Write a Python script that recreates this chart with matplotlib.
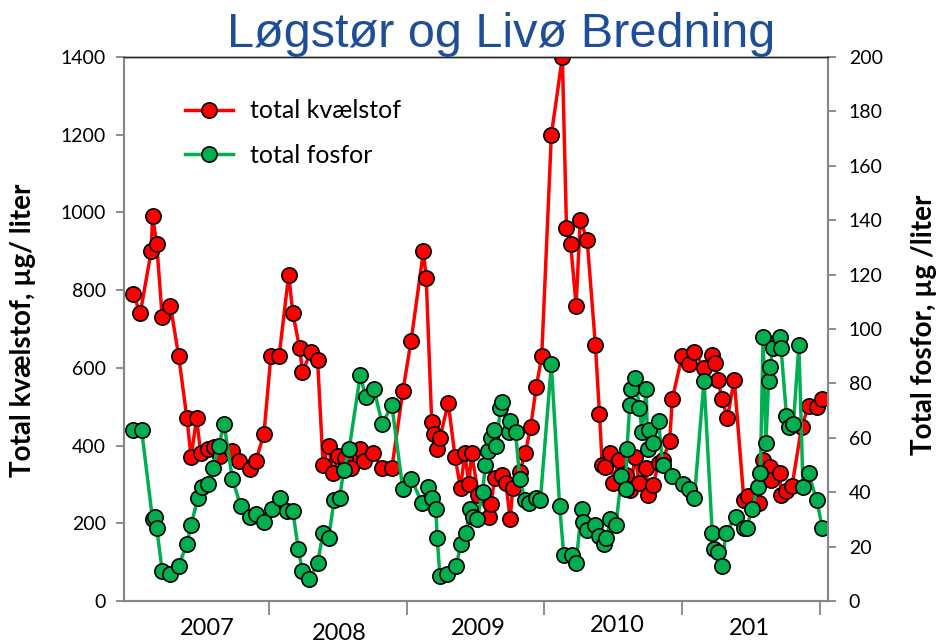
import matplotlib
matplotlib.use("Agg")
import matplotlib.pyplot as plt

# total kvælstof (µg/l), decimal year of sampling
n_year = [
    2007.01, 2007.06, 2007.14, 2007.15, 2007.18, 2007.22, 2007.28, 2007.34, 2007.40, 2007.43,
    2007.47, 2007.50, 2007.55, 2007.60, 2007.64, 2007.73, 2007.78, 2007.86, 2007.90, 2007.96,
    2008.01, 2008.07, 2008.14, 2008.17, 2008.22, 2008.24, 2008.30, 2008.35, 2008.39, 2008.43,
    2008.46, 2008.50, 2008.55, 2008.59, 2008.66, 2008.69, 2008.75, 2008.82, 2008.89, 2008.97,
    2009.03, 2009.12, 2009.14, 2009.18, 2009.20, 2009.22, 2009.24, 2009.30, 2009.35, 2009.39,
    2009.42, 2009.45, 2009.47, 2009.52, 2009.60, 2009.61, 2009.64, 2009.69, 2009.72, 2009.75,
    2009.77, 2009.82, 2009.86, 2009.90, 2009.94, 2009.98, 2010.05, 2010.13, 2010.16, 2010.19,
    2010.23, 2010.26, 2010.31, 2010.37, 2010.40, 2010.42, 2010.44, 2010.48, 2010.50, 2010.54,
    2010.59, 2010.62, 2010.66, 2010.69, 2010.74, 2010.75, 2010.79, 2010.83, 2010.86, 2010.91,
    2010.93, 2011.00, 2011.05, 2011.09, 2011.16, 2011.22, 2011.24, 2011.26, 2011.29, 2011.33,
    2011.38, 2011.45, 2011.48, 2011.56, 2011.59, 2011.64, 2011.65, 2011.71, 2011.72, 2011.76,
    2011.80, 2011.87, 2011.92, 2011.98, 2012.02,
]
n_value = [
    790, 740, 900, 990, 920, 730, 760, 630, 470, 370,
    470, 380, 390, 395, 372, 387, 360, 340, 360, 430,
    630, 630, 840, 740, 650, 590, 640, 620, 350, 400,
    330, 372, 368, 342, 392, 360, 381, 342, 342, 540,
    670, 900, 830, 460, 430, 390, 420, 510, 370, 290,
    381, 300, 380, 273, 217, 250, 317, 323, 303, 211,
    290, 332, 380, 449, 550, 630, 1200, 1400, 960, 920,
    760, 980, 930, 660, 481, 350, 346, 381, 303, 363,
    325, 286, 370, 303, 342, 273, 299, 355, 363, 411,
    521, 630, 610, 641, 600, 632, 613, 570, 520, 471,
    570, 260, 269, 252, 363, 346, 312, 329, 273, 282,
    295, 449, 501, 499, 520,
]

# total fosfor (µg/l)
p_year = [
    2007.01, 2007.07, 2007.15, 2007.17, 2007.18, 2007.22, 2007.28, 2007.34, 2007.40, 2007.43,
    2007.48, 2007.51, 2007.55, 2007.59, 2007.63, 2007.67, 2007.73, 2007.79, 2007.86, 2007.90,
    2007.96, 2008.02, 2008.08, 2008.13, 2008.17, 2008.21, 2008.24, 2008.29, 2008.35, 2008.39,
    2008.43, 2008.47, 2008.51, 2008.54, 2008.58, 2008.66, 2008.70, 2008.76, 2008.82, 2008.89,
    2008.97, 2009.03, 2009.11, 2009.15, 2009.18, 2009.21, 2009.22, 2009.24, 2009.29, 2009.36,
    2009.39, 2009.43, 2009.46, 2009.48, 2009.51, 2009.55, 2009.57, 2009.59, 2009.61, 2009.63,
    2009.65, 2009.68, 2009.69, 2009.74, 2009.75, 2009.79, 2009.82, 2009.86, 2009.89, 2009.94,
    2009.97, 2010.05, 2010.11, 2010.14, 2010.20, 2010.23, 2010.27, 2010.28, 2010.31, 2010.37,
    2010.40, 2010.43, 2010.45, 2010.48, 2010.52, 2010.56, 2010.59, 2010.60, 2010.62, 2010.63,
    2010.66, 2010.69, 2010.71, 2010.74, 2010.75, 2010.76, 2010.79, 2010.83, 2010.86, 2010.93,
    2011.01, 2011.05, 2011.09, 2011.16, 2011.22, 2011.23, 2011.26, 2011.29, 2011.32, 2011.39,
    2011.45, 2011.47, 2011.51, 2011.55, 2011.57, 2011.59, 2011.61, 2011.63, 2011.64, 2011.66,
    2011.71, 2011.72, 2011.76, 2011.78, 2011.81, 2011.85, 2011.88, 2011.92, 2011.98, 2012.02,
]
p_value = [
    63, 63, 30, 31, 27, 11, 10, 13, 21, 28,
    38, 42, 43, 49, 57, 65, 45, 35, 31, 32,
    29, 34, 38, 33, 33, 19, 11, 8, 14, 25,
    23, 37, 38, 48, 56, 83, 75, 78, 65, 72,
    41, 45, 36, 42, 38, 34, 23, 9, 10, 13,
    21, 25, 34, 31, 30, 40, 50, 55, 60, 63,
    57, 71, 73, 62, 66, 62, 45, 37, 36, 38,
    37, 87, 35, 17, 17, 14, 34, 29, 26, 28,
    24, 21, 23, 30, 28, 46, 41, 56, 72, 78,
    82, 71, 62, 78, 56, 63, 58, 66, 50, 46,
    43, 41, 38, 81, 25, 19, 18, 13, 25, 31,
    27, 27, 34, 42, 47, 97, 58, 81, 86, 93,
    97, 93, 68, 64, 65, 94, 42, 47, 37, 27,
]

year_labels = ["2007", "2008", "2009", "2010", "201"]
year_label_pos = [2007.55, 2008.51, 2009.52, 2010.53, 2011.49]
year_bounds = [2008, 2009, 2010, 2011, 2012]

plt.rcParams["font.family"] = ["Lato", "DejaVu Sans"]

AXIS_GREY = "#868686"

fig = plt.figure(figsize=(9.37, 6.42), dpi=100, facecolor="white")
ax = fig.add_axes([0.1323, 0.0639, 0.7514, 0.8473])
ax2 = ax.twinx()

marker_kw = dict(marker="o", markersize=11, markeredgecolor="black", markeredgewidth=1.2)
ax.plot(n_year, n_value, color="#FF0000", linewidth=2.5, markerfacecolor="#FF0000",
        label="total kvælstof", **marker_kw)
ax2.plot(p_year, p_value, color="#00B050", linewidth=2.5, markerfacecolor="#00B050",
         label="total fosfor", **marker_kw)

ax.set_xlim(2006.942, 2012.062)
ax.set_ylim(0, 1400)
ax2.set_ylim(0, 200)
ax.set_yticks(range(0, 1401, 200))
ax2.set_yticks(range(0, 201, 20))
ax.set_xticks(year_bounds)
ax.set_xticklabels([])

for a in (ax, ax2):
    for side in ("left", "right", "bottom"):
        a.spines[side].set_color(AXIS_GREY)
        a.spines[side].set_linewidth(1.5)
    a.spines["top"].set_color("#262626")
    a.spines["top"].set_linewidth(1.0)

ax.tick_params(axis="y", length=6, width=1.3, color=AXIS_GREY, labelsize=14, pad=7)
ax2.tick_params(axis="y", length=6, width=1.3, color=AXIS_GREY, labelsize=14, pad=9)
ax.tick_params(axis="x", length=10, width=1.3, color=AXIS_GREY)

# Excel-style staggered year labels
label_offsets = [-0.050, -0.059, -0.050, -0.046, -0.050]
for pos, lab, off in zip(year_label_pos, year_labels, label_offsets):
    ax.text(pos, off, lab, transform=ax.get_xaxis_transform(), ha="center", va="center",
            fontsize=17)

fig.text(23 / 937, 1 - 330 / 642, "Total kvælstof, µg/ liter", rotation=90, ha="center",
         va="center", fontsize=20, fontweight="bold")
fig.text(924 / 937, 1 - 325 / 642, "Total fosfor, µg /liter", rotation=90, ha="center",
         va="center", fontsize=20, fontweight="bold")

fig.text(501 / 937, 1 - 47 / 642, "Løgstør og Livø Bredning", ha="center", va="baseline",
         fontsize=35, color="#1F4E99", family=["Liberation Sans", "DejaVu Sans"])

h1, l1 = ax.get_legend_handles_labels()
h2, l2 = ax2.get_legend_handles_labels()
ax2.legend(h1 + h2, l1 + l2, loc="upper left", bbox_to_anchor=(0.087, 0.922), frameon=False,
           fontsize=18, handlelength=1.9, handletextpad=0.7, labelspacing=0.85,
           borderpad=0, borderaxespad=0)

fig.savefig("out.png", dpi=100, facecolor="white")
